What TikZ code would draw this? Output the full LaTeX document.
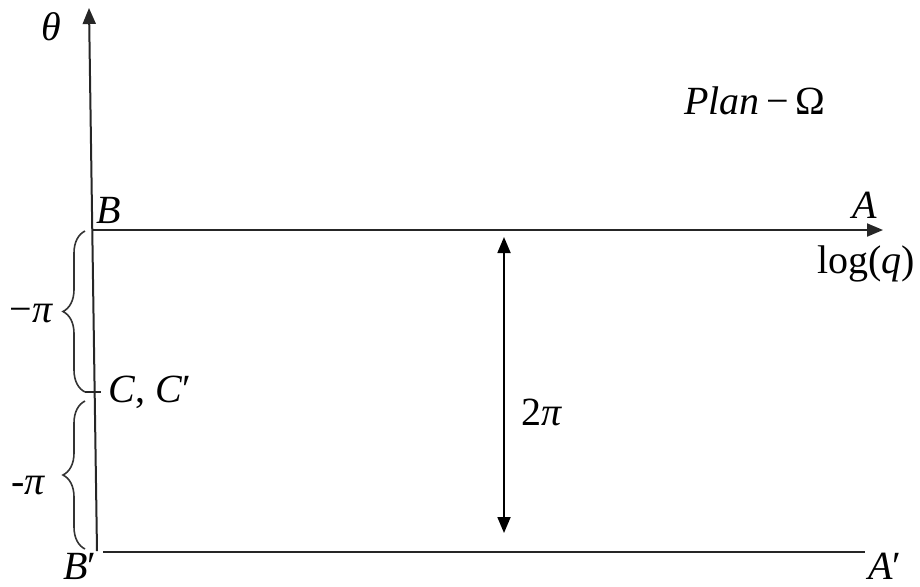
\documentclass[tikz,border=0pt]{standalone}
\usepackage{fontspec}
\setmainfont{Liberation Serif}
\usetikzlibrary{
  arrows.meta,
  decorations.pathreplacing
}
\tikzset{
  axisline/.style={line width=1pt, draw=black!85},
  headtip/.style={-{Triangle[length=8pt,width=6.5pt]}},
  twotip/.style={{Triangle[length=8pt,width=6.5pt]}-{Triangle[length=8pt,width=6.5pt]}},
  lbl/.style={inner sep=0pt, font=\fontsize{20}{24}\selectfont\itshape},
  bracket/.style={decorate, decoration={brace, amplitude=11pt}, line width=0.8pt, draw=black!80}
}

\begin{document}
\begin{tikzpicture}[x=0.5pt, y=-0.5pt]
  \useasboundingbox (0,0) rectangle (920,586);
  % points of the plane
  \coordinate (top) at (89,8);
  \coordinate (bot) at (97,551);
  \coordinate (Bpt) at (92,230);
  \coordinate (Apt) at (883,230);
  \coordinate (Bqt) at (103,552);
  \coordinate (Aqt) at (865,552);
  \coordinate (Cpt) at (95,392);
  \coordinate (up) at (504,237);
  \coordinate (dn) at (504,533);

  % axes and lines
  \draw[axisline, headtip] (bot) -- (top);
  \draw[axisline, headtip] (Bpt) -- (Apt);
  \draw[axisline] (Bqt) -- (Aqt);
  \draw[axisline] ([xshift=-5pt]Cpt) -- ([xshift=3pt]Cpt);
  \draw[line width=0.9pt, twotip] (up) -- (dn);

  % braces
  \draw[bracket] (85,392) -- (85,231);
  \draw[bracket] (85,549) -- (85,401);

  % labels
  \node[lbl] (theta) at (51,27) {θ};
  \node[lbl] (B) at (109,210) {B};
  \node[lbl] (A) at (865,205) {A};
  \node[lbl, font=\fontsize{20}{24}\selectfont] (logq) at (866,264) {log(\textit{q})};
  \node[lbl] (plan) at (755,101) {Plan\,\upshape−\,Ω};
  \node[lbl] (Cc) at (150,392) {C\upshape, \itshape C\upshape′};
  \node[lbl, font=\fontsize{20}{24}\selectfont] (twopi) at (542,412) {2\textit{π}};
  \node[lbl] (mpi1) at (31,313) {\upshape−\itshape π};
  \node[lbl] (mpi2) at (28,485) {\upshape-\itshape π};
  \node[lbl] (Bp) at (80,566) {B\upshape′};
  \node[lbl] (Ap) at (885,566) {A\upshape′};
\end{tikzpicture}
\end{document}
